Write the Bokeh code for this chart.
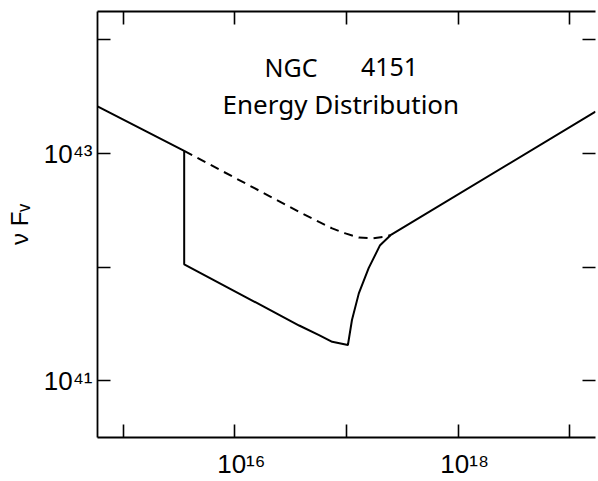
from bokeh.plotting import figure
from bokeh.models import Range1d, LogAxis, FixedTicker, CustomJSTickFormatter
from bokeh.core.properties import value
from bokeh.embed import file_html
from bokeh.resources import INLINE

# ---- data ----
# solid curve: power law, drop at the Lyman edge, then rise into the X-ray power law
nu_solid = [5.89e14, 3.52e15, 3.52e15, 3.77e16, 5.68e16, 7.45e16, 1.03e17,
            1.12e17, 1.29e17, 1.58e17, 2.00e17, 2.48e17, 1.70e19]
nufnu_solid = [2.606e43, 1.054e43, 1.057e42, 3.06e41, 2.52e41, 2.20e41, 2.06e41,
               3.42e41, 5.87e41, 9.79e41, 1.56e42, 1.91e42, 2.34e43]

# dashed curve: unabsorbed continuation
nu_dash = [3.52e15, 4.03e16, 5.68e16, 7.45e16, 9.79e16, 1.29e17, 1.69e17, 2.22e17, 2.46e17]
nufnu_dash = [1.054e43, 2.96e42, 2.50e42, 2.19e42, 1.98e42, 1.82e42, 1.79e42, 1.85e42, 1.91e42]

x_ticks = [1e15, 1e16, 1e17, 1e18, 1e19]
x_label_exps = [16, 18]
x_label_texts = ["\u200210\u00b9\u2076", "\u200210\u00b9\u2078"]

y_ticks = [1e41, 1e42, 1e43, 1e44]
y_label_exps = [41, 43]
y_label_texts = ["10\u2074\u00b9", "10\u2074\u00b3"]

title_line1 = ["NGC", "4151"]
title_line2 = "Energy Distribution"
y_title = "\u03bd F\u1d65"

FONT = "Noto Sans"
TICKFONT = "Liberation Sans"

p = figure(width=598, height=481, x_axis_type="log", y_axis_type="log",
           x_range=Range1d(5.89e14, 1.70e19), y_range=Range1d(3.16e40, 1.78e44),
           output_backend="svg", toolbar_location=None,
           min_border_left=97, min_border_right=0, min_border_top=11, min_border_bottom=44)

p.background_fill_color = "white"
p.border_fill_color = "white"
p.outline_line_color = None
p.xgrid.visible = False
p.ygrid.visible = False

code = """
const e = Math.round(Math.log10(tick));
const i = exps.indexOf(e);
return i >= 0 ? labs[i] : " ";
"""
blank = CustomJSTickFormatter(code='return " ";')

def style_axis(ax, ticks, show_line=True):
    ax.ticker = FixedTicker(ticks=ticks, minor_ticks=[])
    ax.major_tick_in = 13
    ax.major_tick_out = 0
    ax.minor_tick_in = 0
    ax.minor_tick_out = 0
    ax.major_tick_line_width = 1.6
    ax.major_tick_line_color = "black"
    ax.axis_line_width = 1.8
    ax.axis_line_color = "black" if show_line else None

xa = p.xaxis[0]
style_axis(xa, x_ticks)
xa.formatter = CustomJSTickFormatter(args=dict(exps=x_label_exps, labs=x_label_texts), code=code)
xa.major_label_text_font = TICKFONT
xa.major_label_text_font_size = "26px"
xa.major_label_text_color = "black"
xa.major_label_standoff = 11

ya = p.yaxis[0]
style_axis(ya, y_ticks)
ya.formatter = CustomJSTickFormatter(args=dict(exps=y_label_exps, labs=y_label_texts), code=code)
ya.major_label_text_font = TICKFONT
ya.major_label_text_font_size = "26px"
ya.major_label_text_color = "black"
ya.major_label_standoff = 5
ya.axis_label = y_title
ya.axis_label_text_font = TICKFONT
ya.axis_label_text_font_style = "normal"
ya.axis_label_text_font_size = "24px"
ya.axis_label_text_color = "black"
ya.axis_label_standoff = 8

top = LogAxis()
style_axis(top, x_ticks)
top.formatter = blank
top.major_label_text_font_size = "1px"
top.major_label_standoff = 0
p.add_layout(top, "above")

right = LogAxis()
style_axis(right, y_ticks, show_line=False)
right.formatter = blank
right.major_label_text_font_size = "1px"
right.major_label_standoff = 0
p.add_layout(right, "right")

p.line(nu_dash, nufnu_dash, line_color="black", line_width=2, line_dash="9 6")
p.line(nu_solid, nufnu_solid, line_color="black", line_width=2)

p.text(x=[3.19e16, 2.43e17], y=[5.74e43, 5.74e43], text=title_line1,
       text_font=value(FONT), text_font_size="25px", text_align="center",
       text_baseline="alphabetic", text_color="black")
p.text(x=[8.91e16], y=[2.71e43], text=[title_line2],
       text_font=value(FONT), text_font_size="26px", text_align="center",
       text_baseline="alphabetic", text_color="black")

open("out.html", "w").write(file_html(p, INLINE))
